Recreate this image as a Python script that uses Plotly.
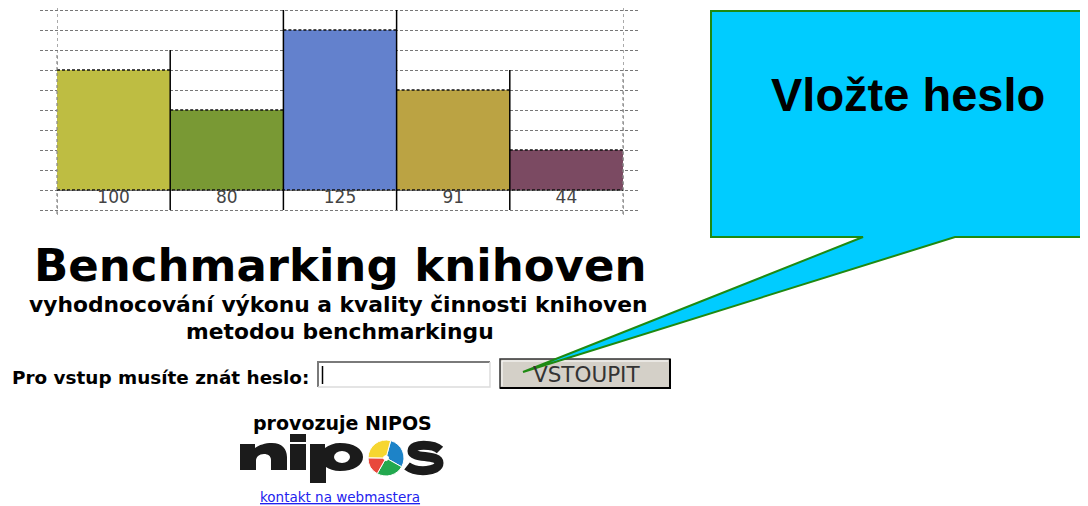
import re
import plotly.graph_objects as go

# ---------------- data ----------------
bar_labels = ["100", "80", "125", "91", "44"]
bar_heights = [6, 4, 8, 5, 2]          # heights as drawn (grid units)
bar_colors = ["#BEBD42", "#799934", "#6381CD", "#BBA343", "#7B4A62"]

logo_segments = ["modrá", "zelená", "červená", "žlutá"]
logo_values = [29, 25, 17, 29]
logo_colors = ["#1D83C8", "#22A84E", "#E8483C", "#F6D631"]

title_text = "Benchmarking knihoven"
subtitle_lines = ["vyhodnocování výkonu a kvality činnosti knihoven", "metodou benchmarkingu"]
callout_text = "Vložte heslo"

# ---------------- helpers ----------------
W, H = 1088, 506
OFF = 8  # page body margin of the html page


def px(x):
    return (x - OFF) / W


def py(y):
    return 1 - (y - OFF) / H


def conv(d):
    return re.sub(r"(-?\d+\.?\d*),(-?\d+\.?\d*)",
                  lambda m: f"{px(float(m[1])):.5f},{py(float(m[2])):.5f}", d)


idx = list(range(len(bar_heights)))
fig = go.Figure()

# bars
fig.add_trace(go.Bar(x=idx, y=bar_heights, width=1, marker_color=bar_colors,
                     marker_line_width=0, hoverinfo="skip"))

# dashed top edges of bars + baseline
tx, ty = [], []
for i, h in zip(idx, bar_heights):
    tx += [i - 0.5, i + 0.5, None]
    ty += [h, h, None]
tx += [idx[0] - 0.5, idx[-1] + 0.5]
ty += [0, 0]
fig.add_trace(go.Scatter(x=tx, y=ty, mode="lines", hoverinfo="skip",
                         line=dict(color="#111", width=1.5, dash="3px,2px")))

# outer dotted edges
ox = [idx[0] - 0.5, idx[0] - 0.5, None, idx[-1] + 0.5, idx[-1] + 0.5]
oy = [-1.2, bar_heights[0] + 0.9, None, -1.2, bar_heights[-1] + 3.9]
fig.add_trace(go.Scatter(x=ox, y=oy, mode="lines", hoverinfo="skip",
                         line=dict(color="#888", width=1.2, dash="dot")))

# solid separators between bars
sx, sy = [], []
for i in range(len(bar_heights) - 1):
    top = max(bar_heights[i], bar_heights[i + 1]) + 1
    sx += [i + 0.5, i + 0.5, None]
    sy += [-1, top, None]
fig.add_trace(go.Scatter(x=sx, y=sy, mode="lines", hoverinfo="skip",
                         line=dict(color="#000", width=1.5)))

# value labels under the bars
fig.add_trace(go.Scatter(x=idx, y=[-0.45] * len(idx), mode="text", text=bar_labels,
                         textposition="middle center", hoverinfo="skip",
                         textfont=dict(family="DejaVu Sans", size=17, color="#444")))

# logo disc
fig.add_trace(go.Pie(labels=logo_segments, values=logo_values, sort=False,
                     direction="clockwise", rotation=15, hole=0.14,
                     marker=dict(colors=logo_colors, line=dict(color="white", width=1)),
                     textinfo="none", hoverinfo="skip", showlegend=False,
                     domain=dict(x=[px(366), px(406)], y=[py(476), py(440)])))

unit = (623 - 57) / 5
fig.update_xaxes(domain=[px(40), px(640)],
                 range=[-0.5 - 17 / unit, 4.5 + 17 / unit],
                 tickvals=[-0.5, 4.5], showticklabels=False, ticks="",
                 showgrid=True, gridcolor="#aaa", griddash="dot", gridwidth=1,
                 zeroline=False, showline=False, fixedrange=True)
fig.update_yaxes(domain=[py(215), 1.0], range=[-1.25, 9.1],
                 tick0=0, dtick=1, showticklabels=False, ticks="",
                 showgrid=True, gridcolor="#777", griddash="3px,2px", gridwidth=1,
                 zeroline=False, showline=False, fixedrange=True)

shapes = []
# input box
shapes.append(dict(type="rect", xref="paper", yref="paper", x0=px(318), x1=px(490),
                   y0=py(387), y1=py(362), fillcolor="white", line=dict(width=0)))
shapes.append(dict(type="path", xref="paper", yref="paper",
                   path=conv("M318,387 L318,362 L490,362"), line=dict(color="#7a7a7a", width=2)))
shapes.append(dict(type="path", xref="paper", yref="paper",
                   path=conv("M490,362 L490,387 L318,387"), line=dict(color="#dcdcdc", width=1.5)))
shapes.append(dict(type="line", xref="paper", yref="paper", x0=px(322.5), x1=px(322.5),
                   y0=py(384), y1=py(366), line=dict(color="#000", width=1.5)))
# button
shapes.append(dict(type="rect", xref="paper", yref="paper", x0=px(500), x1=px(670),
                   y0=py(388), y1=py(359), fillcolor="#D4D0C8", line=dict(color="#333", width=1.5)))
shapes.append(dict(type="path", xref="paper", yref="paper",
                   path=conv("M670,359 L670,388 L500,388"), line=dict(color="#000", width=2)))
shapes.append(dict(type="path", xref="paper", yref="paper",
                   path=conv("M502,386 L502,361 L668,361"), line=dict(color="#ffffff", width=1)))

# logo letters
ink = "#1b1b1b"
shapes.append(dict(type="path", xref="paper", yref="paper", fillcolor=ink, line=dict(width=0),
                   path=conv("M240,470 L240,444 L255,444 L255,448 C259,445 265,443 272,443 "
                             "C282,443 287,449 287,457 L287,470 L271,470 L271,460 "
                             "C271,456 268,454 264,454 C259,454 256,457 256,461 L256,470 Z")))
shapes.append(dict(type="rect", xref="paper", yref="paper", x0=px(290), x1=px(306),
                   y0=py(470), y1=py(444), fillcolor=ink, line=dict(width=0)))
shapes.append(dict(type="rect", xref="paper", yref="paper", x0=px(290), x1=px(306),
                   y0=py(442), y1=py(434), fillcolor=ink, line=dict(width=0)))
shapes.append(dict(type="path", xref="paper", yref="paper", fillcolor=ink, line=dict(width=0),
                   path=conv("M310,444 L325,444 L325,448 C329,445 334,443 340,443 "
                             "C354,443 363,449 363,457 C363,465 354,471 340,471 "
                             "C334,471 329,469 326,467 L326,483 L310,483 Z")))
shapes.append(dict(type="circle", xref="paper", yref="paper", x0=px(334), x1=px(350),
                   y0=py(463), y1=py(451), fillcolor="white", line=dict(width=0)))
shapes.append(dict(type="path", xref="paper", yref="paper", line=dict(color=ink, width=9),
                   path=conv("M440,450 C434,444 412,443 412,451 C412,459 439,454 439,463 "
                             "C439,472 416,473 407,466")))

# callout
shapes.append(dict(type="path", xref="paper", yref="paper", fillcolor="#00CCFF",
                   line=dict(color="#1E8A12", width=2),
                   path=conv("M711,11 L1100,11 L1100,237 L955,237 L523,372 L863,237 L711,237 Z")))

annotations = [
    dict(text=f"<b>{title_text}</b>", x=px(340), y=py(265),
         font=dict(family="DejaVu Sans", size=45, color="#000")),
    dict(text=f"<b>{subtitle_lines[0]}</b>", x=px(338), y=py(304),
         font=dict(family="DejaVu Sans", size=21.8, color="#000")),
    dict(text=f"<b>{subtitle_lines[1]}</b>", x=px(340), y=py(331),
         font=dict(family="DejaVu Sans", size=21.8, color="#000")),
    dict(text="<b>Pro vstup musíte znát heslo:</b>", x=px(10), y=py(377), xanchor="left",
         font=dict(family="DejaVu Sans", size=18.4, color="#000")),
    dict(text="VSTOUPIT", x=px(586), y=py(374),
         font=dict(family="DejaVu Sans", size=21.5, color="#333")),
    dict(text="<b>provozuje NIPOS</b>", x=px(342), y=py(423),
         font=dict(family="DejaVu Sans", size=19, color="#000")),
    dict(text="<u>kontakt na webmastera</u>", x=px(340), y=py(497),
         font=dict(family="DejaVu Sans", size=13.5, color="#2222EE")),
    dict(text=f"<b>{callout_text}</b>", x=px(908), y=py(94),
         font=dict(family="Liberation Sans, Arial", size=47, color="#000")),
]
for a in annotations:
    a.update(xref="paper", yref="paper", showarrow=False)
    a.setdefault("xanchor", "center")
    a.setdefault("yanchor", "middle")

fig.update_layout(width=W, height=H, autosize=False,
                  margin=dict(l=0, r=0, t=0, b=0, pad=0),
                  paper_bgcolor="white", plot_bgcolor="white",
                  showlegend=False, bargap=0,
                  shapes=shapes, annotations=annotations)

fig.write_html("out.html", config={"displayModeBar": False})
